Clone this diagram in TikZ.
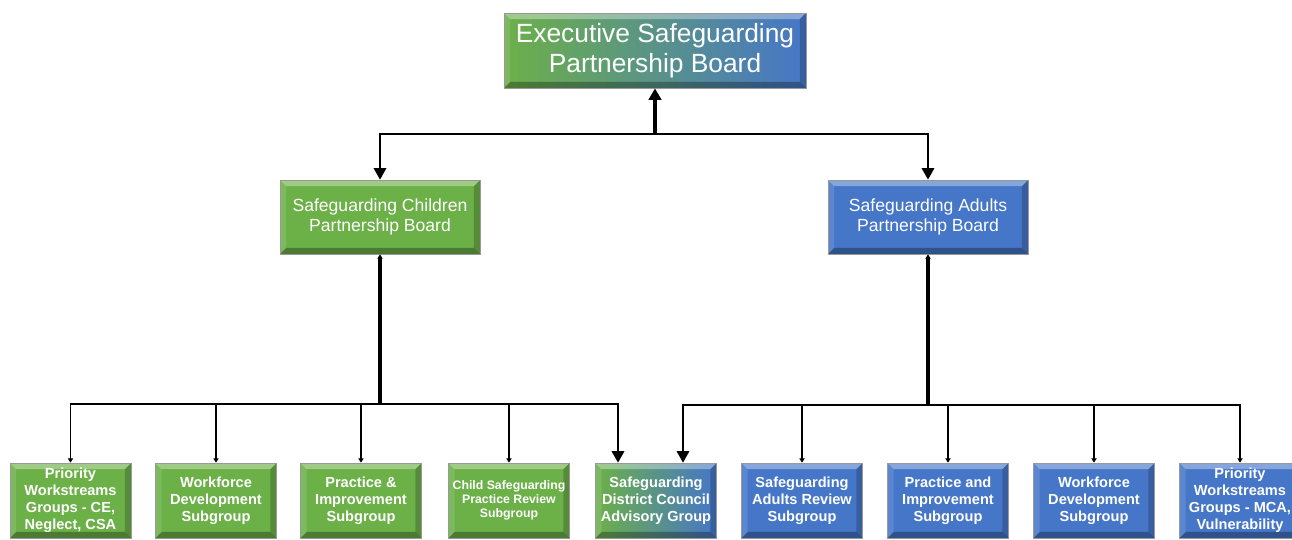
\documentclass[tikz,border=0pt]{standalone}
\usepackage{fontspec}
\setmainfont{Liberation Sans}
\usepackage{tikz}
\usetikzlibrary{positioning, arrows.meta, shadings}

\definecolor{sgGreen}{RGB}{108,176,72}
\definecolor{sgBlue}{RGB}{70,118,200}
\definecolor{sgTeal}{RGB}{120,192,200}
\newcommand{\pbb}{path picture bounding box}

\tikzset{
  bevel/.style={path picture={
      \fill[white, opacity=.35] (\pbb.north west) -- (\pbb.north east) -- ([shift={(-3.5pt,-3.5pt)}]\pbb.north east) -- ([shift={(3.5pt,-3.5pt)}]\pbb.north west) -- cycle;
      \fill[black, opacity=.3] (\pbb.south west) -- (\pbb.south east) -- ([shift={(-3.5pt,3.5pt)}]\pbb.south east) -- ([shift={(3.5pt,3.5pt)}]\pbb.south west) -- cycle;
      \fill[black, opacity=.2] (\pbb.north east) -- (\pbb.south east) -- ([shift={(-3.5pt,3.5pt)}]\pbb.south east) -- ([shift={(-3.5pt,-3.5pt)}]\pbb.north east) -- cycle;
      \fill[white, opacity=.12] (\pbb.north west) -- (\pbb.south west) -- ([shift={(3.5pt,3.5pt)}]\pbb.south west) -- ([shift={(3.5pt,-3.5pt)}]\pbb.north west) -- cycle;
  }},
  box/.style={draw=black!40, line width=0.4pt, bevel, text=white, align=center, inner sep=1pt},
  topbox/.style={box, minimum width=6.04cm, minimum height=1.5cm, left color=sgGreen, right color=sgBlue,
    font=\fontsize{15}{17}\selectfont},
  board/.style={box, minimum width=4cm, minimum height=1.48cm, font=\fontsize{10}{11.3}\selectfont},
  subbox/.style={box, minimum width=2.42cm, minimum height=1.5cm, font=\bfseries\fontsize{8.3}{9.6}\selectfont},
  trunk/.style={line width=1.8pt},
  rail/.style={line width=1.2pt},
  branch/.style={line width=0.9pt},
  bigtip/.style={-{Triangle[width=7pt,length=6.5pt]}},
  smalltip/.style={-{Triangle[width=3pt,length=2.5pt]}},
}

\begin{document}
\begin{tikzpicture}[x=0.02cm, y=-0.02cm]
\useasboundingbox (0,0) rectangle (1292,539);
\clip (0,0) rectangle (1292,539);

% boards
\node[topbox] (esp) at (655,50.5) {Executive Safeguarding\\Partnership Board};
\node[board, fill=sgGreen] (scp) at (380,217) {Safeguarding Children\\Partnership Board};
\node[board, fill=sgBlue] (sap) at (928,217) {Safeguarding Adults\\Partnership Board};

% subgroups
\node[subbox, fill=sgGreen] (cpw) at (70.5,500.5) {Priority\\Workstreams\\Groups - CE,\\Neglect, CSA};
\node[subbox, fill=sgGreen] (cwd) at (216,500.5) {Workforce\\Development\\Subgroup};
\node[subbox, fill=sgGreen] (cpi) at (361,500.5) {Practice \&\\Improvement\\Subgroup};
\node[subbox, fill=sgGreen, font=\bfseries\fontsize{7}{8}\selectfont] (ccs) at (509,500.5) {Child Safeguarding\\Practice Review\\Subgroup};
\node[subbox, left color=sgGreen, middle color=sgTeal, right color=sgBlue] (sdc) at (656,500.5) {Safeguarding\\District Council\\Advisory Group};
\node[subbox, fill=sgBlue] (asr) at (802,500.5) {Safeguarding\\Adults Review\\Subgroup};
\node[subbox, fill=sgBlue] (api) at (948,500.5) {Practice and\\Improvement\\Subgroup};
\node[subbox, fill=sgBlue] (awd) at (1094,500.5) {Workforce\\Development\\Subgroup};
\node[subbox, fill=sgBlue] (apw) at (1240,500.5) {Priority\\Workstreams\\Groups - MCA,\\Vulnerability};

% junctions
\coordinate (topj) at (655,134);
\coordinate (cj) at (380,404);
\coordinate (aj) at (928,405);

% top level
\draw[trunk, bigtip] (topj) -- (esp.south);
\draw[rail, bigtip] (topj) -| (scp.north);
\draw[rail, bigtip] (topj) -| (sap.north);

% children side
\draw[trunk, smalltip] (cj) -- (scp.south);
\foreach \n in {cpw,cwd,cpi,ccs}
  \draw[branch, smalltip] (cj) -| (\n.north);
\draw[rail, bigtip] (cj) -| ([xshift=-0.76cm]sdc.north);

% adults side
\draw[trunk, smalltip] (aj) -- (sap.south);
\foreach \n in {asr,api,awd,apw}
  \draw[branch, smalltip] (aj) -| (\n.north);
\draw[rail, bigtip] (aj) -| ([xshift=0.54cm]sdc.north);
\end{tikzpicture}
\end{document}
